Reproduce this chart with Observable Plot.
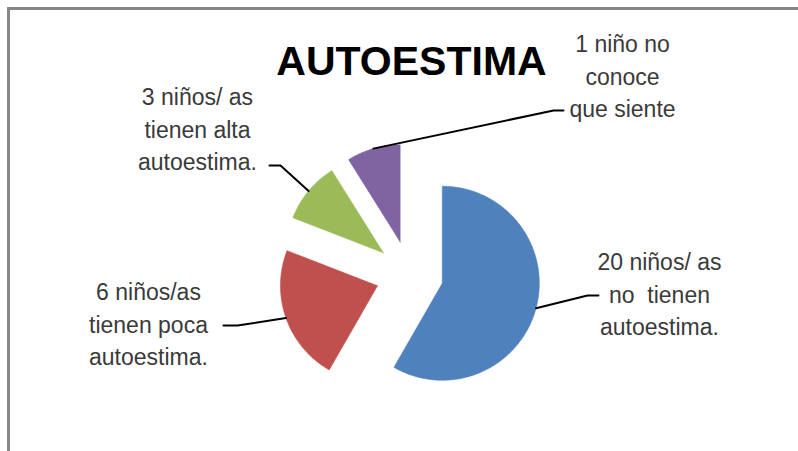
<!DOCTYPE html>
<html>
<head>
<meta charset="utf-8">
<script src="https://cdn.jsdelivr.net/npm/d3@7"></script>
<script src="https://cdn.jsdelivr.net/npm/@observablehq/plot@0.6"></script>
<style>
  html, body { margin: 0; padding: 0; background: #fff; }
  #wrap { position: relative; width: 798px; height: 451px; overflow: hidden; }
  #border { position: absolute; left: 7px; top: 7px; width: 900px; height: 600px;
            border-left: 3px solid #878787; border-top: 3px solid #878787; pointer-events: none; }
</style>
</head>
<body>
<div id="wrap"><div id="border"></div></div>
<script>
// ---- data ----
const categories = ["no tienen autoestima", "poca autoestima", "alta autoestima", "no conoce"];
// slice shares as drawn (percent of the circle)
const shares = [58.3, 22.6, 10.2, 8.9];
const labels = [
  "20 niños/ as\nno\u00a0 tienen\nautoestima.",
  "6 niños/as\ntienen poca\nautoestima.",
  "3 niños/ as\ntienen alta\nautoestima.",
  "1 niño no\nconoce\nque siente"
];
const colors = ["#4F81BD", "#C0504D", "#9BBB59", "#8064A2"];
const title = "AUTOESTIMA";

// ---- layout (pie radius = 1 unit, offsets relative to pie centre) ----
const R = 97, cx = 409, cy = 274;
const explode = 0.35;
const labelLayout = [
  {tx: 2.577, ty: -0.281, elbow: [1.835, 0.2165], end: [1.948, 0.2165]},
  {tx: -2.691, ty: 0.028, elbow: [-1.773, 0.526], end: [-1.918, 0.526]},
  {tx: -2.186, ty: -1.982, elbow: [-1.330, -1.124], end: [-1.443, -1.124]},
  {tx: 2.196, ty: -2.529, elbow: [1.485, -1.691], end: [1.588, -1.691]}
];

const arcs = d3.pie().sort(null).value(d => d)(shares);

const slicePts = [];
const leaderPts = [];
const labelRows = [];
arcs.forEach((a, i) => {
  const cat = categories[i];
  const mid = (a.startAngle + a.endAngle) / 2;
  const ox = explode * Math.sin(mid), oy = -explode * Math.cos(mid);
  slicePts.push({cat, x: ox, y: oy});
  const n = Math.max(4, Math.ceil((a.endAngle - a.startAngle) / (Math.PI / 180)));
  for (let k = 0; k <= n; k++) {
    const t = a.startAngle + (a.endAngle - a.startAngle) * k / n;
    slicePts.push({cat, x: ox + Math.sin(t), y: oy - Math.cos(t)});
  }
  slicePts.push({cat, x: ox, y: oy});
  const L = labelLayout[i];
  leaderPts.push({cat, x: ox + Math.sin(mid), y: oy - Math.cos(mid)});
  leaderPts.push({cat, x: L.elbow[0], y: L.elbow[1]});
  leaderPts.push({cat, x: L.end[0], y: L.end[1]});
  labelRows.push({cat, x: L.tx, y: L.ty, text: labels[i]});
});

const W = 798, H = 451;
const chart = Plot.plot({
  width: W, height: H, margin: 0,
  style: {fontFamily: "'Liberation Sans', Arial, sans-serif", background: "transparent"},
  x: {domain: [-cx / R, (W - cx) / R], axis: null},
  y: {domain: [-cy / R, (H - cy) / R], range: [0, H], axis: null},
  color: {domain: categories, range: colors},
  marks: [
    Plot.line(slicePts, {x: "x", y: "y", z: "cat", fill: "cat", stroke: "cat", strokeWidth: 0.6, curve: "linear"}),
    Plot.line(leaderPts, {x: "x", y: "y", z: "cat", stroke: "#000", strokeWidth: 2, curve: "linear"}),
    Plot.text(labelRows, {x: "x", y: "y", text: "text", lineAnchor: "top", lineHeight: 1.413,
      fontSize: 23, fill: "#3a3a3a", textAnchor: "middle"}),
    Plot.text([title], {frameAnchor: "top", dx: 12, dy: 45, lineAnchor: "top",
      fontSize: 41, fontWeight: "bold", fill: "#000"})
  ]
});
document.getElementById("wrap").prepend(chart);
</script>
</body>
</html>
